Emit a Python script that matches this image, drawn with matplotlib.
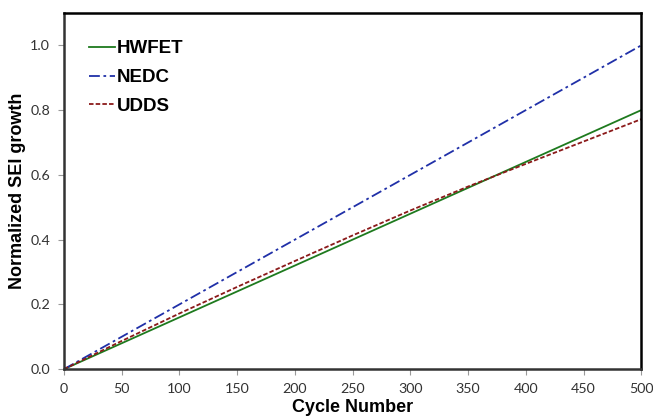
import matplotlib
matplotlib.use("Agg")
import matplotlib.pyplot as plt

# cycle numbers and normalized SEI growth
cycles = [0, 50, 100, 150, 200, 250, 300, 350, 400, 450, 500]
hwfet = [0.0, 0.08, 0.16, 0.24, 0.32, 0.40, 0.48, 0.56, 0.64, 0.72, 0.80]
nedc = [0.0, 0.10, 0.20, 0.30, 0.40, 0.50, 0.60, 0.70, 0.80, 0.90, 1.00]
udds = [0.0, 0.087, 0.172, 0.254, 0.334, 0.413, 0.490, 0.564, 0.634, 0.703, 0.772]

x_ticks = [0, 50, 100, 150, 200, 250, 300, 350, 400, 450, 500]
y_ticks = [0.0, 0.2, 0.4, 0.6, 0.8, 1.0]

plt.rcParams['font.family'] = ['Liberation Sans', 'DejaVu Sans']

fig = plt.figure(figsize=(6.53, 4.19), dpi=100)
ax = fig.add_axes([0.098, 0.119, 0.884, 0.850])

ax.plot(cycles, hwfet, color='#1e7a1e', lw=1.3, label='HWFET')
ax.plot(cycles, nedc, color='#2030a8', lw=1.3, linestyle=(0, (6, 2, 1.5, 2)), label='NEDC')
ax.plot(cycles, udds, color='#8b1a1a', lw=1.3, linestyle=(0, (2.5, 1.2)), label='UDDS')

ax.set_xlim(0, 500)
ax.set_ylim(0, 1.1)
ax.set_xticks(x_ticks)
ax.set_yticks(y_ticks)
ax.set_yticklabels([f'{v:.1f}' for v in y_ticks])
ax.tick_params(axis='both', direction='out', length=4, width=0.8, color='#999999',
               labelsize=10.3, labelcolor='#333333', pad=6)
for lab in ax.get_xticklabels() + ax.get_yticklabels():
    lab.set_family(['Lato', 'DejaVu Sans'])

for side in ['left', 'bottom']:
    ax.spines[side].set_linewidth(1.8)
    ax.spines[side].set_color('#333333')
for side in ['top', 'right']:
    ax.spines[side].set_linewidth(1.8)
    ax.spines[side].set_color('black')

ax.set_xlabel('Cycle Number', fontsize=13, fontweight='bold', labelpad=3)
ax.set_ylabel('Normalized SEI growth', fontsize=13, fontweight='bold', labelpad=3)

leg = ax.legend(loc='upper left', frameon=False, fontsize=13.5, handlelength=1.4,
                handletextpad=0.1, labelspacing=0.62, borderaxespad=0.3,
                bbox_to_anchor=(0.02, 0.96))
for t in leg.get_texts():
    t.set_fontweight('bold')

fig.savefig('out.png', dpi=100)
